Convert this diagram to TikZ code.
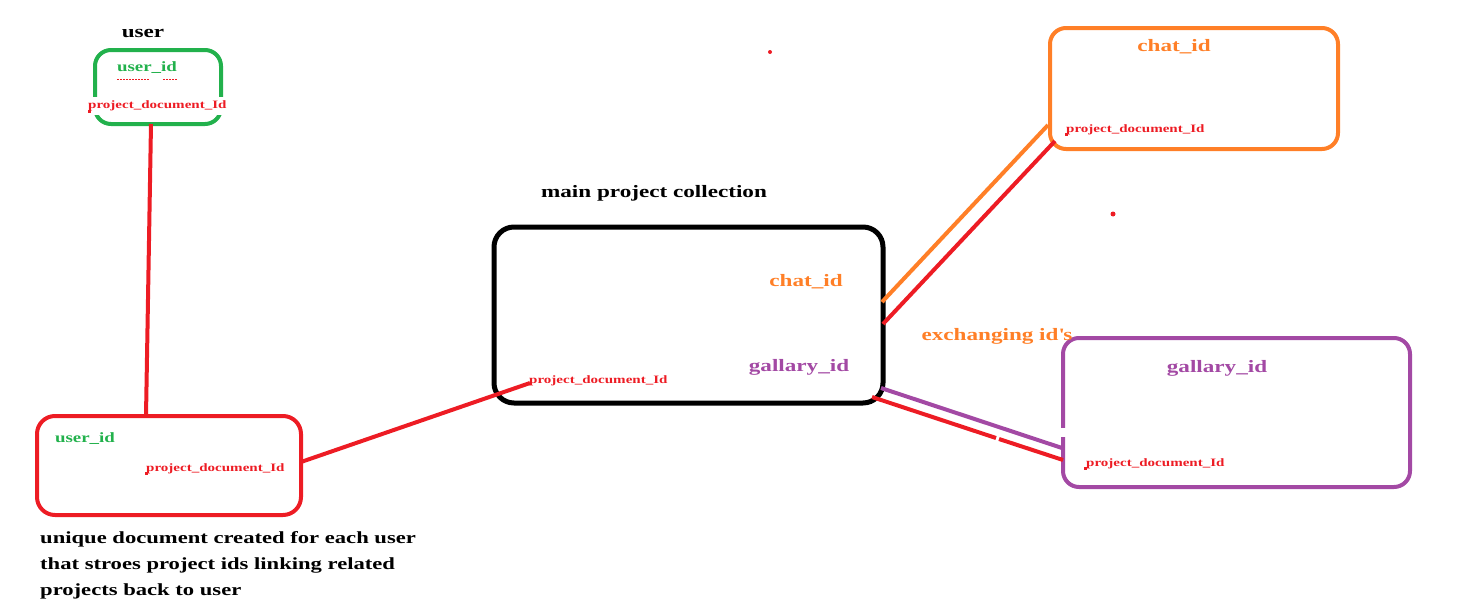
\documentclass[tikz,border=0pt]{standalone}
\usepackage{fontspec}
\setmainfont{Liberation Serif}[FakeStretch=1.33]
\definecolor{pred}{HTML}{ED1C24}
\definecolor{pgreen}{HTML}{22B14C}
\definecolor{porange}{HTML}{FF7F27}
\definecolor{ppurple}{HTML}{A349A4}
\tikzset{
  box/.style={draw, line width=4pt, rounded corners=16pt, inner sep=0pt, fill=none},
  link/.style={line width=4pt},
  pdi/.style={text=pred, font=\bfseries\fontsize{11.3}{12}\selectfont, inner sep=0pt, anchor=west, fill=white},
  lbl/.style={font=\bfseries\fontsize{17.4}{18}\selectfont, inner sep=0pt},
  smalllbl/.style={font=\bfseries\fontsize{14.2}{16}\selectfont, inner sep=0pt, text=pgreen},
  captiontext/.style={font=\bfseries\fontsize{17}{26}\selectfont, inner sep=0pt, align=left, anchor=north west},
  sq/.style={fill=pred, minimum size=3pt, inner sep=0pt},
}
\begin{document}
\begin{tikzpicture}[x=1pt,y=-1pt]
\useasboundingbox (0,0) rectangle (1468,616);
% boxes
\node[box, draw=pgreen, minimum width=126pt, minimum height=74pt] (ubox) at (158,87) {};
\node[box, draw=pred, minimum width=264pt, minimum height=99pt, rounded corners=18pt] (rbox) at (169,465.5) {};
\node[box, draw=black, line width=5pt, minimum width=389pt, minimum height=176pt, rounded corners=20pt] (mbox) at (688.5,315) {};
\node[box, draw=porange, minimum width=288pt, minimum height=121pt] (obox) at (1194,88.5) {};
\node[box, draw=ppurple, minimum width=347pt, minimum height=149pt] (gbox) at (1236.5,412.5) {};
% connector coordinates
\coordinate (u1) at (151,124);
\coordinate (r1) at (146,416);
\coordinate (r2) at (301,462);
\coordinate (m1) at (530,383);
\coordinate (mo) at (882,302);
\coordinate (oo) at (1048,125);
\coordinate (mr) at (883,324);
\coordinate (or) at (1055,141);
\coordinate (mp) at (881,388);
\coordinate (gp) at (1062,448);
\coordinate (mr2) at (872,397);
\coordinate (gr1) at (996,438);
\coordinate (gr2) at (999,439);
\coordinate (gr) at (1063,460);
% connectors
\draw[link, pred] (u1) -- (r1);
\draw[link, pred] (r2) -- (m1);
\draw[link, porange] (mo) -- (oo);
\draw[link, pred] (mr) -- (or);
\draw[link, ppurple] (mp) -- (gp);
\draw[link, pred] (mr2) -- (gr1);
\draw[link, pred] (gr2) -- (gr);
\fill[white] (1058,428) rectangle (1068,437);
% labels
\node[lbl] (usert) at (143,33) {user};
\node[smalllbl] (uid1) at (147,67.5) {user\_id};
\draw[pred, line width=1pt, dash pattern=on 2pt off 1pt] (117,79) -- (149,79);
\draw[pred, line width=1pt, dash pattern=on 2pt off 1pt] (163,79) -- (177,79);
\node[pdi, inner ysep=4pt] (p1) at (88,106) {project\_document\_Id};
\node[sq] (s1) at (89,111) {};
\node[smalllbl] (uid2) at (85,438.5) {user\_id};
\node[pdi, fill=none] (p2) at (146,468.5) {project\_document\_Id};
\node[sq] (s2) at (146,473) {};
\node[captiontext] (capt) at (40,531) {unique document created for each user\\that stroes project ids linking related\\projects back to user};
\node[lbl] (mt) at (654,193) {main project collection};
\node[lbl, text=porange] (c1) at (806,282) {chat\_id};
\node[lbl, text=ppurple] (g1) at (799,367) {gallary\_id};
\node[pdi, fill=none] (p3) at (529,380.5) {project\_document\_Id};
\node[lbl, text=porange] (c2) at (1174,47) {chat\_id};
\node[pdi, fill=none] (p4) at (1066,129.5) {project\_document\_Id};
\node[sq] (s4) at (1066,134) {};
\node[lbl, text=porange] (ex) at (997,336) {exchanging id\textquotesingle s};
\node[lbl, text=ppurple] (g2) at (1217,368) {gallary\_id};
\node[pdi, fill=none] (p5) at (1086,463.5) {project\_document\_Id};
\node[sq] (s5) at (1085,468) {};
% stray dots
\fill[pred] (770,52) circle (2pt) coordinate (d1);
\fill[pred] (1113,214) circle (2.5pt) coordinate (d2);
\end{tikzpicture}
\end{document}
